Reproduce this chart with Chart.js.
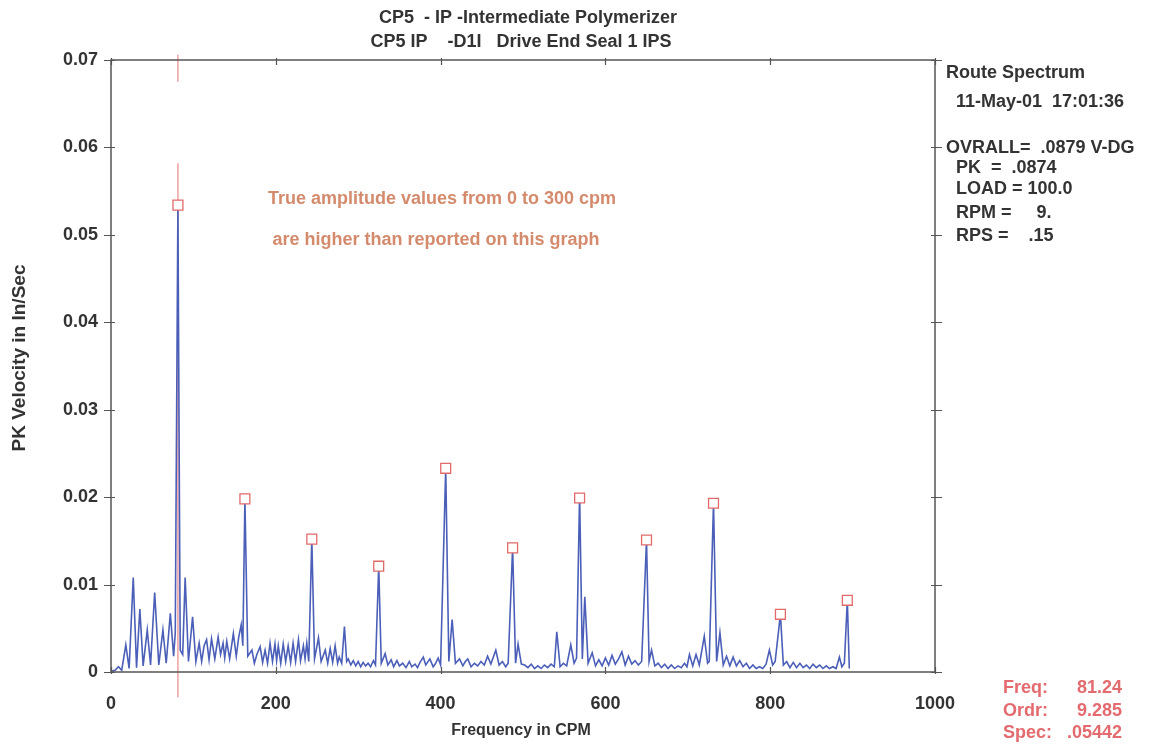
<!DOCTYPE html>
<html>
<head>
<meta charset="utf-8">
<script src="https://cdn.jsdelivr.net/npm/chart.js@4/dist/chart.umd.min.js"></script>
<style>
  html, body { margin: 0; padding: 0; background: #fff; }
  #wrap { width: 1149px; height: 745px; }
</style>
</head>
<body>
<div id="wrap"><canvas id="spec" width="1149" height="745"></canvas></div>
<script>
// spectrum trace (peaks and valleys), CPM / in/sec
const specFreq = [
  0, 5, 9, 13, 18, 22, 27, 31, 35, 39, 44, 48, 53, 58, 63, 67, 72, 76, 78, 81.2,
  84, 87, 90, 94, 99, 103, 107, 110, 113, 116, 119, 122, 126, 130, 133, 136, 138, 140.5, 144, 148.5,
  152, 155, 158, 160, 162.5, 166, 171, 174, 177, 181, 184, 187, 190, 193, 196, 199, 201, 203, 206, 209,
  212, 215, 218, 221, 224, 227.5, 230, 233.5, 235.5, 237.6, 240, 243.7, 247, 251.8, 255, 260, 263, 266, 269, 272,
  275, 277, 280, 283.3, 286, 288, 291, 294, 297, 300, 303, 306, 309, 312, 315, 318.5, 321, 324.9, 328, 332.7,
  336, 340, 343, 347, 350, 354, 358, 362, 365, 369, 372, 375, 379, 382, 387, 391, 394, 397, 400, 406.2,
  410, 414, 418, 423, 427, 430, 433, 437, 441, 445, 449, 453, 457, 461, 467, 471, 475, 479, 482, 487.4,
  491, 494, 498, 502, 506, 510, 514, 518, 522, 526, 530, 534, 538, 541, 545, 549, 553, 558, 562, 565,
  568.7, 572, 575, 579, 584, 588, 592, 596, 600, 604, 608, 612, 616, 620, 624, 628, 632, 636, 640, 644,
  649.9, 653, 656, 660, 664, 668, 672, 676, 680, 684, 688, 692, 696, 699, 702, 706, 710, 714, 720, 724,
  726, 731.2, 735, 739, 743, 747, 751, 755, 759, 763, 767, 771, 775, 779, 783, 787, 791, 795, 799, 803,
  806, 812.4, 816, 820, 824, 828, 832, 836, 840, 844, 848, 852, 856, 860, 864, 868, 872, 876, 880, 884,
  887, 890, 893.6, 896
];
const specAmp = [
  0.0001, 0.0002, 0.0006, 0.0002, 0.0031, 0.0004, 0.0108, 0.0005, 0.0072, 0.0007, 0.0048, 0.0008, 0.0091, 0.0008, 0.0048, 0.0010, 0.0067, 0.0018, 0.0045, 0.0534,
  0.0025, 0.0020, 0.0108, 0.0012, 0.0063, 0.0012, 0.0033, 0.0012, 0.0030, 0.0037, 0.0014, 0.0038, 0.0015, 0.0040, 0.0020, 0.0033, 0.0016, 0.0035, 0.0015, 0.0044,
  0.0018, 0.0040, 0.0054, 0.0030, 0.0198, 0.0018, 0.0025, 0.0010, 0.0020, 0.0029, 0.0011, 0.0025, 0.0010, 0.0033, 0.0012, 0.0032, 0.0013, 0.0030, 0.0010, 0.0032,
  0.0012, 0.0030, 0.0011, 0.0033, 0.0012, 0.0037, 0.0013, 0.0030, 0.0015, 0.0033, 0.0012, 0.0152, 0.0015, 0.0039, 0.0012, 0.0025, 0.0010, 0.0027, 0.0011, 0.0030,
  0.0010, 0.0017, 0.0010, 0.0052, 0.0012, 0.0015, 0.0008, 0.0013, 0.0007, 0.0012, 0.0006, 0.0011, 0.0007, 0.0010, 0.0006, 0.0013, 0.0008, 0.0121, 0.0010, 0.0021,
  0.0008, 0.0014, 0.0006, 0.0013, 0.0007, 0.0010, 0.0005, 0.0012, 0.0006, 0.0009, 0.0005, 0.0011, 0.0017, 0.0008, 0.0015, 0.0006, 0.0010, 0.0016, 0.0008, 0.0233,
  0.0012, 0.0060, 0.0010, 0.0015, 0.0007, 0.0012, 0.0015, 0.0006, 0.0010, 0.0007, 0.0012, 0.0008, 0.0018, 0.0009, 0.0025, 0.0008, 0.0012, 0.0006, 0.0010, 0.0142,
  0.0010, 0.0032, 0.0009, 0.0008, 0.0005, 0.0009, 0.0004, 0.0007, 0.0004, 0.0008, 0.0005, 0.0009, 0.0006, 0.0046, 0.0006, 0.0010, 0.0007, 0.0031, 0.0010, 0.0016,
  0.0203, 0.0015, 0.0086, 0.0010, 0.0022, 0.0007, 0.0014, 0.0007, 0.0016, 0.0008, 0.0019, 0.0009, 0.0015, 0.0023, 0.0008, 0.0018, 0.0009, 0.0013, 0.0008, 0.0012,
  0.0151, 0.0012, 0.0025, 0.0007, 0.0010, 0.0005, 0.0009, 0.0004, 0.0008, 0.0004, 0.0007, 0.0005, 0.0010, 0.0006, 0.0020, 0.0007, 0.0020, 0.0008, 0.0041, 0.0010,
  0.0012, 0.0193, 0.0012, 0.0045, 0.0008, 0.0018, 0.0007, 0.0017, 0.0007, 0.0013, 0.0006, 0.0010, 0.0004, 0.0008, 0.0004, 0.0006, 0.0004, 0.0009, 0.0025, 0.0008,
  0.0012, 0.0066, 0.0008, 0.0012, 0.0005, 0.0011, 0.0005, 0.0010, 0.0005, 0.0008, 0.0004, 0.0009, 0.0005, 0.0008, 0.0004, 0.0007, 0.0004, 0.0006, 0.0004, 0.0017,
  0.0006, 0.0010, 0.0082, 0.0004
];

// marked peaks (red boxes)
const peakFreq = [81.24, 162.5, 243.7, 324.9, 406.2, 487.4, 568.7, 649.9, 731.2, 812.4, 893.6];
const peakAmp  = [0.0534, 0.0198, 0.0152, 0.0121, 0.0233, 0.0142, 0.0199, 0.0151, 0.0193, 0.0066, 0.0082];

// cursor line at 81.24 cpm, drawn in two pieces
const cursorFreq = 81.24;
const cursorLow  = [-0.0029, 0.0582];
const cursorHigh = [0.0675, 0.0706];

const titleLines = ['CP5  - IP -Intermediate Polymerizer', 'CP5 IP    -D1I   Drive End Seal 1 IPS'];
const infoLines = ['Route Spectrum', '  11-May-01  17:01:36', '', 'OVRALL=  .0879 V-DG', '  PK  =  .0874', '  LOAD = 100.0', '  RPM =     9.', '  RPS =    .15'];
const noteLines = ['True amplitude values from 0 to 300 cpm', 'are higher than reported on this graph'];
const cursorLabels = ['Freq:', 'Ordr:', 'Spec:'];
const cursorValues = ['81.24', '9.285', '.05442'];

const FONT = '"Liberation Sans", Arial, sans-serif';
const AXIS = '#555';

const spectrum = specFreq.map((f, i) => ({ x: f, y: specAmp[i] }));
const peaks = peakFreq.map((f, i) => ({ x: f, y: peakAmp[i] }));
const cursor = [
  { x: cursorFreq, y: cursorLow[0] }, { x: cursorFreq, y: cursorLow[1] },
  { x: cursorFreq, y: null },
  { x: cursorFreq, y: cursorHigh[0] }, { x: cursorFreq, y: cursorHigh[1] }
];

// frame, crossing ticks and all the free text
const decor = {
  id: 'decor',
  afterDraw(chart) {
    const { ctx, chartArea: a, scales } = chart;
    ctx.save();
    ctx.strokeStyle = AXIS;
    ctx.lineWidth = 1.5;
    ctx.strokeRect(a.left, a.top, a.right - a.left, a.bottom - a.top);

    ctx.lineWidth = 1.2;
    ctx.beginPath();
    scales.y.ticks.forEach(t => {
      const py = Math.round(scales.y.getPixelForValue(t.value)) + 0.5;
      ctx.moveTo(a.left - 7, py); ctx.lineTo(a.left + 4, py);
      ctx.moveTo(a.right - 4, py); ctx.lineTo(a.right + 7, py);
    });
    scales.x.ticks.forEach(t => {
      const px = Math.round(scales.x.getPixelForValue(t.value)) + 0.5;
      ctx.moveTo(px, a.bottom - 5); ctx.lineTo(px, a.bottom + 2);
      ctx.moveTo(px, a.top - 2); ctx.lineTo(px, a.top + 5);
    });
    ctx.stroke();

    ctx.textBaseline = 'middle';
    ctx.fillStyle = '#333';
    ctx.font = 'bold 18px ' + FONT;
    ctx.textAlign = 'center';
    ctx.fillText(titleLines[0], 528, 18);
    ctx.fillText(titleLines[1], 521, 42);

    ctx.font = 'bold 16px ' + FONT;
    ctx.fillText('Frequency in CPM', 521, 731);
    ctx.save();
    ctx.translate(20, 358);
    ctx.rotate(-Math.PI / 2);
    ctx.font = 'bold 19px ' + FONT;
    ctx.fillText('PK Velocity in In/Sec', 0, 0);
    ctx.restore();

    ctx.textAlign = 'left';
    ctx.font = 'bold 18px ' + FONT;
    const infoY = [73, 102, 0, 148, 168, 189, 213, 236];
    infoLines.forEach((s, i) => { if (s) ctx.fillText(s, 946, infoY[i]); });

    ctx.fillStyle = '#d48a6c';
    ctx.textAlign = 'center';
    ctx.fillText(noteLines[0], 442, 199);
    ctx.fillText(noteLines[1], 436, 240);

    ctx.fillStyle = '#e36a6e';
    const curY = [688, 711, 733];
    cursorLabels.forEach((s, i) => {
      ctx.textAlign = 'left';
      ctx.fillText(s, 1003, curY[i]);
      ctx.textAlign = 'right';
      ctx.fillText(cursorValues[i], 1122, curY[i]);
    });
    ctx.restore();
  }
};

new Chart(document.getElementById('spec'), {
  type: 'line',
  data: {
    datasets: [
      {
        data: peaks,
        showLine: false,
        pointStyle: 'rect',
        pointRadius: 7,
        pointBackgroundColor: '#fff',
        pointBorderColor: '#e26a6a',
        pointBorderWidth: 1.3,
        order: 0
      },
      {
        data: spectrum,
        borderColor: '#4b5fb8',
        borderWidth: 1.6,
        pointRadius: 0,
        tension: 0,
        order: 1
      },
      {
        data: cursor,
        borderColor: '#ec8a8a',
        borderWidth: 1.2,
        pointRadius: 0,
        spanGaps: false,
        clip: false,
        order: 2
      }
    ]
  },
  options: {
    responsive: false,
    animation: false,
    devicePixelRatio: 1,
    layout: { padding: { top: 60, right: 214, left: 0, bottom: 0 } },
    plugins: { legend: { display: false }, tooltip: { enabled: false } },
    scales: {
      x: {
        type: 'linear',
        min: 0, max: 1000,
        grid: { display: false },
        border: { display: false },
        ticks: {
          stepSize: 200, padding: 13, color: '#333', maxRotation: 0,
          font: { family: FONT, size: 18, weight: 'bold' },
          callback: v => String(v)
        },
        afterFit(s) { s.height = 73; }
      },
      y: {
        min: 0, max: 0.07,
        grid: { display: false },
        border: { display: false },
        ticks: {
          stepSize: 0.01, padding: 5, color: '#333',
          font: { family: FONT, size: 18, weight: 'bold' },
          callback: v => v === 0 ? '0' : v.toFixed(2)
        },
        afterFit(s) { s.width = 111; }
      }
    }
  },
  plugins: [decor]
});
</script>
</body>
</html>
